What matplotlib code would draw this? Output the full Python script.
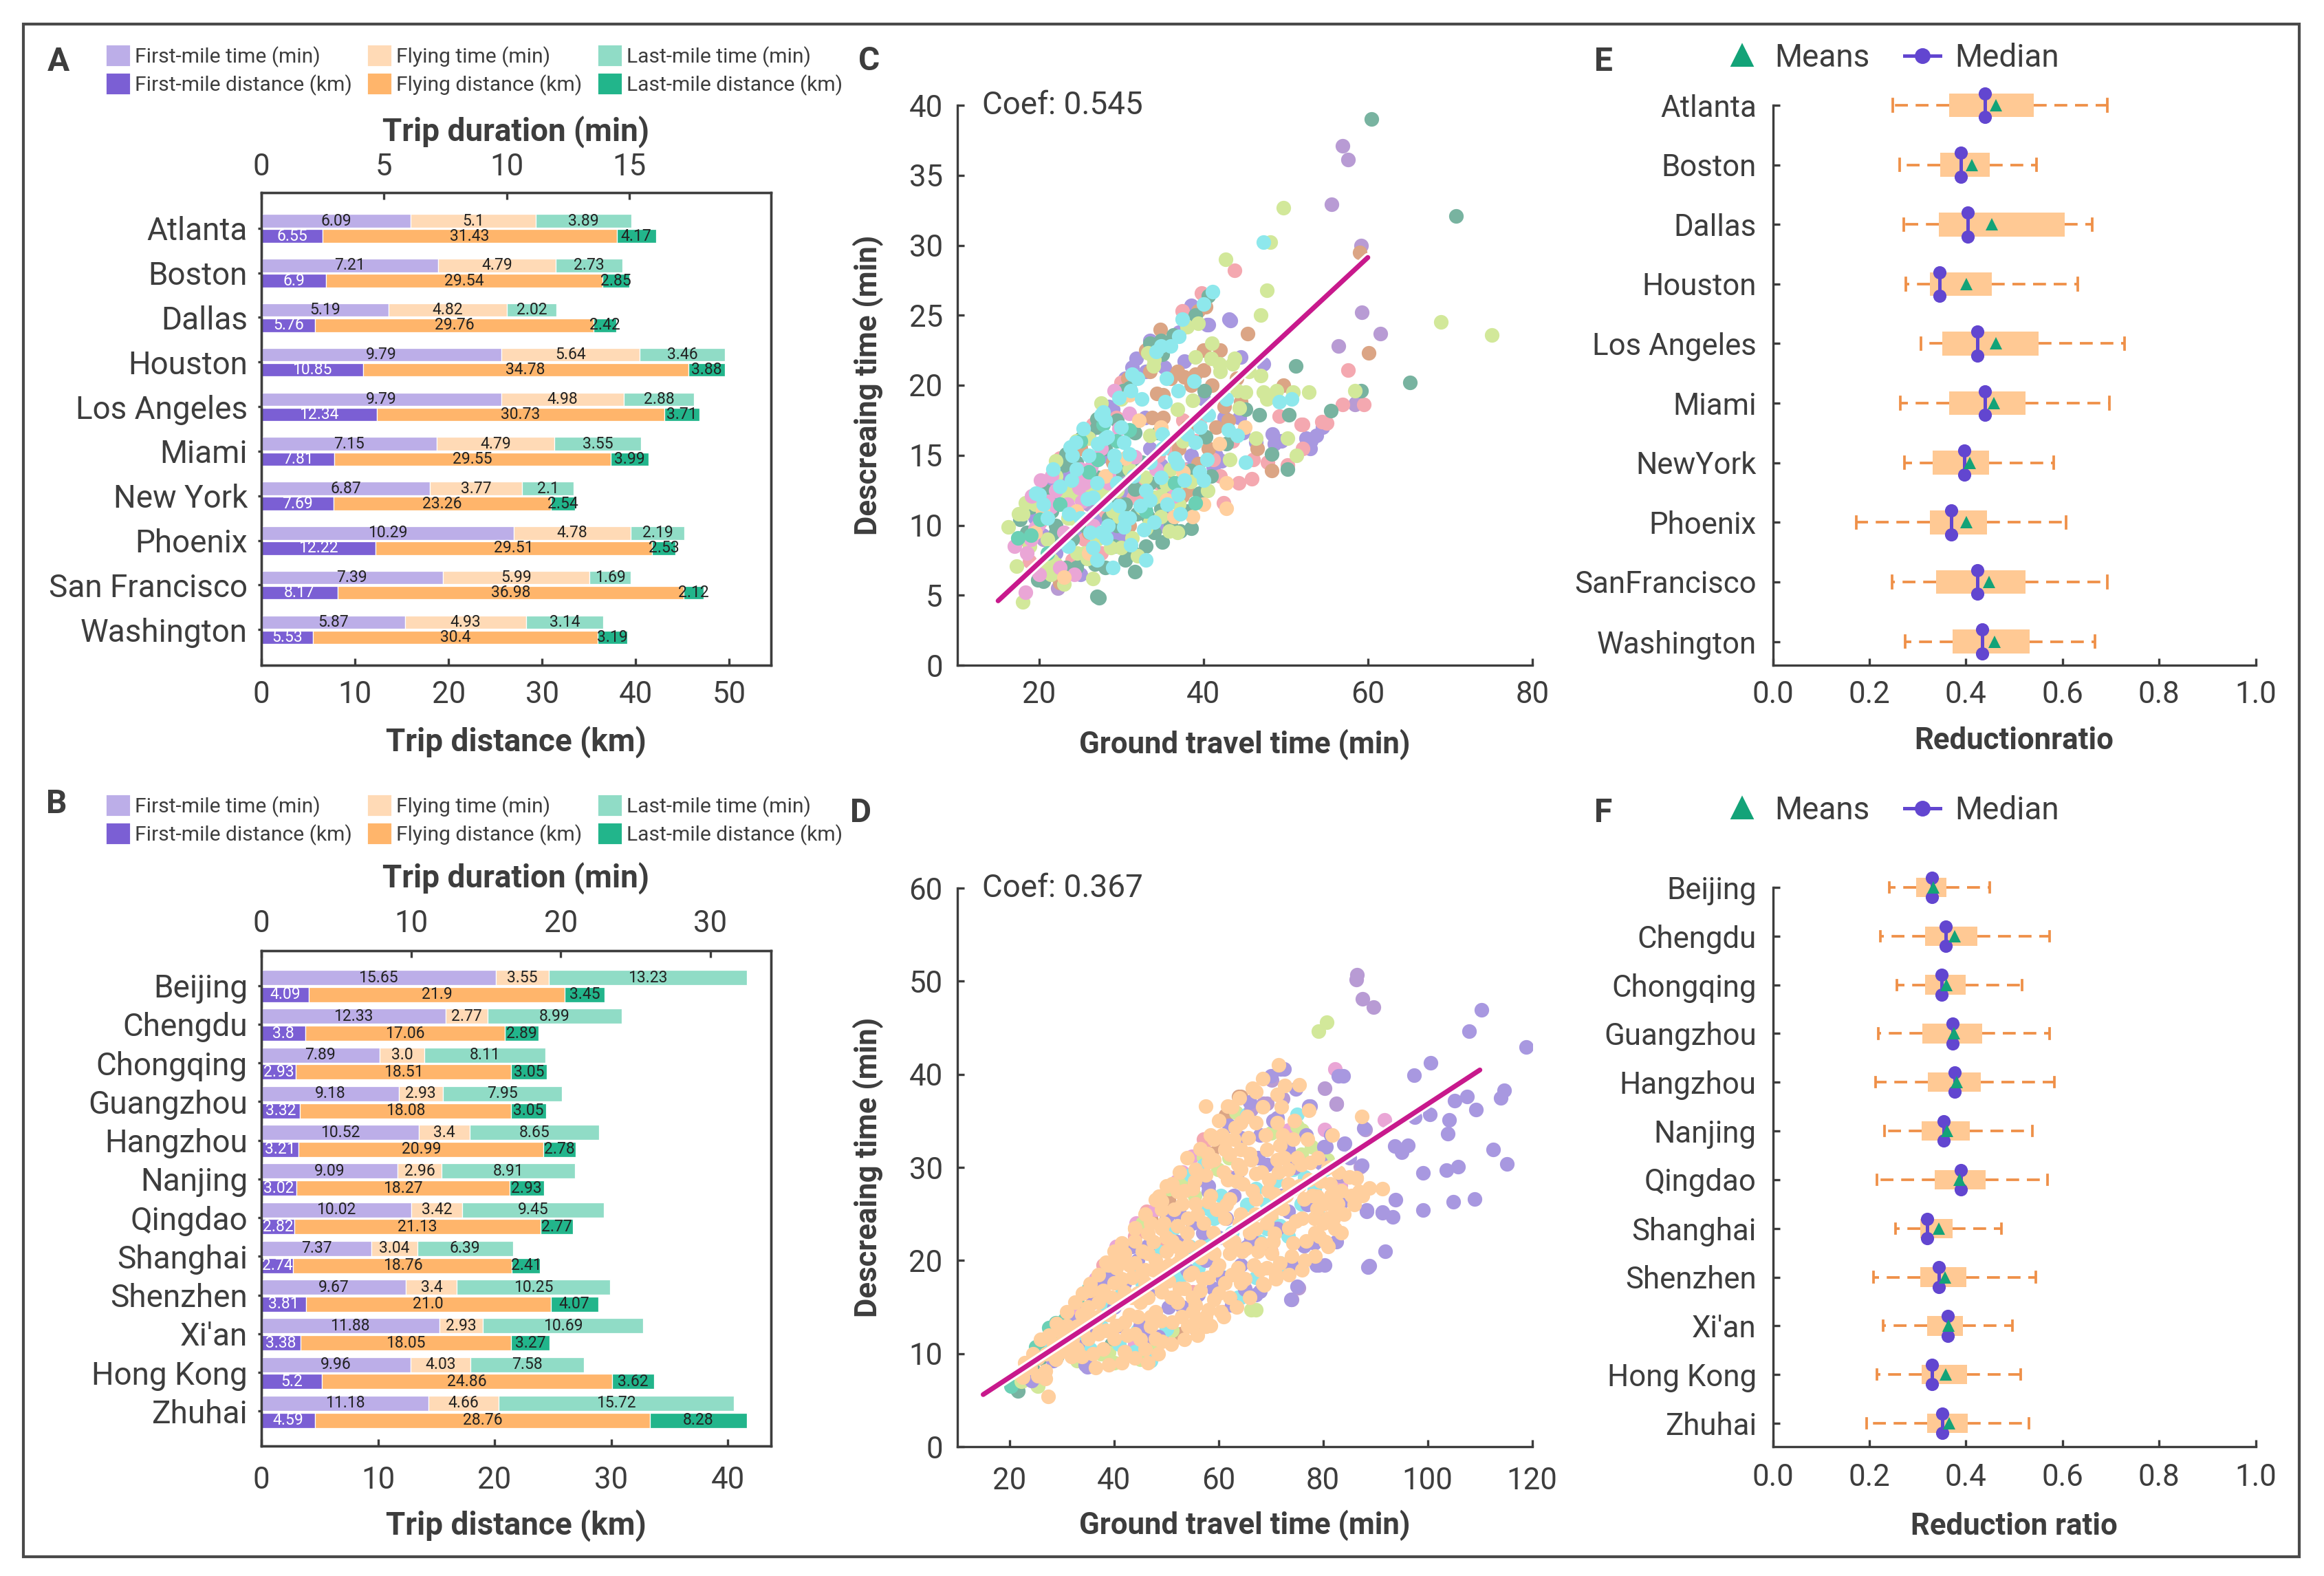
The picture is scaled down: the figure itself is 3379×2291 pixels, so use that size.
import numpy as np
import matplotlib
matplotlib.use("Agg")
import matplotlib.pyplot as plt
import matplotlib.patheffects as pe
from matplotlib.patches import Patch, Rectangle
from matplotlib.lines import Line2D

plt.rcParams["font.family"] = ["Roboto", "DejaVu Sans"]
TXT = "#3d3d3d"
plt.rcParams["text.color"] = TXT
plt.rcParams["axes.labelcolor"] = TXT
plt.rcParams["xtick.color"] = TXT
plt.rcParams["ytick.color"] = TXT
plt.rcParams["axes.edgecolor"] = TXT
plt.rcParams["axes.linewidth"] = 0.8

# ---------------- data: panel A (US) ----------------
us_cities = ["Atlanta", "Boston", "Dallas", "Houston", "Los Angeles", "Miami",
             "New York", "Phoenix", "San Francisco", "Washington"]
us_fm_time = [6.09, 7.21, 5.19, 9.79, 9.79, 7.15, 6.87, 10.29, 7.39, 5.87]
us_fly_time = [5.1, 4.79, 4.82, 5.64, 4.98, 4.79, 3.77, 4.78, 5.99, 4.93]
us_lm_time = [3.89, 2.73, 2.02, 3.46, 2.88, 3.55, 2.1, 2.19, 1.69, 3.14]
us_fm_dist = [6.55, 6.9, 5.76, 10.85, 12.34, 7.81, 7.69, 12.22, 8.17, 5.53]
us_fly_dist = [31.43, 29.54, 29.76, 34.78, 30.73, 29.55, 23.26, 29.51, 36.98, 30.4]
us_lm_dist = [4.17, 2.85, 2.42, 3.88, 3.71, 3.99, 2.54, 2.53, 2.12, 3.19]

# ---------------- data: panel B (China) ----------------
cn_cities = ["Beijing", "Chengdu", "Chongqing", "Guangzhou", "Hangzhou", "Nanjing",
             "Qingdao", "Shanghai", "Shenzhen", "Xi'an", "Hong Kong", "Zhuhai"]
cn_fm_time = [15.65, 12.33, 7.89, 9.18, 10.52, 9.09, 10.02, 7.37, 9.67, 11.88, 9.96, 11.18]
cn_fly_time = [3.55, 2.77, 3.0, 2.93, 3.4, 2.96, 3.42, 3.04, 3.4, 2.93, 4.03, 4.66]
cn_lm_time = [13.23, 8.99, 8.11, 7.95, 8.65, 8.91, 9.45, 6.39, 10.25, 10.69, 7.58, 15.72]
cn_fm_dist = [4.09, 3.8, 2.93, 3.32, 3.21, 3.02, 2.82, 2.74, 3.81, 3.38, 5.2, 4.59]
cn_fly_dist = [21.9, 17.06, 18.51, 18.08, 20.99, 18.27, 21.13, 18.76, 21.0, 18.05, 24.86, 28.76]
cn_lm_dist = [3.45, 2.89, 3.05, 3.05, 2.78, 2.93, 2.77, 2.41, 4.07, 3.27, 3.62, 8.28]

# ---------------- data: panel C scatter (US), (ground time, decreasing time) ----------------
c_purple = [(38.5, 25.7), (40.6, 24.3), (43.3, 24.6), (37.7, 21.7), (35.2, 21.3), (31.8, 21.9), (31.3, 21.3),
            (33.5, 23.2), (47.3, 21.5), (42.5, 17.7), (44.8, 16.6), (48.4, 16.5), (48.6, 15.8), (52.5, 16.2),
            (53.1, 16.0), (53.7, 16.4), (58.5, 18.7), (44.4, 17.7), (32.9, 17.7), (27.5, 14.9), (34.8, 10.0),
            (35.4, 10.3), (42.2, 14.6), (41.2, 14.2), (34.8, 14.3), (24.6, 9.5), (20.4, 9.3), (46.4, 15.9),
            (40.4, 24.3), (43.1, 24.7), (30.5, 20.5), (29.8, 19.2), (24.0, 15.5), (22.5, 13.5), (36.0, 12.0),
            (38.0, 13.0), (40.0, 19.0), (54.5, 17.0), (53.0, 15.5), (49.5, 16.0), (19.5, 10.5), (21.0, 12.0),
            (23.5, 14.0), (26.0, 16.5), (28.5, 18.5), (30.0, 12.0), (32.0, 13.5), (27.0, 10.5), (29.0, 9.5),
            (33.5, 15.5), (36.5, 16.0), (38.5, 15.0), (22.0, 8.0), (25.0, 6.5), (44.5, 22.0), (21.0, 13.0),
            (25.0, 15.8), (29.0, 18.3), (33.0, 21.0), (37.0, 23.8), (22.5, 6.5), (30.0, 9.0), (35.5, 10.8),
            (38.0, 14.0), (41.5, 15.0), (31.0, 12.5), (22.5, 11.8)]
c_lavender = [(56.9, 37.1), (57.6, 36.1), (55.6, 32.9), (59.2, 30.0), (59.3, 25.2), (61.5, 23.7), (56.4, 22.8),
              (22.3, 5.5), (58.4, 18.6), (23.0, 12.8), (26.0, 11.5), (30.5, 13.0), (20.5, 9.0)]
c_pink = [(39.8, 26.6), (37.4, 25.3), (43.8, 28.2), (57.6, 21.1), (56.9, 18.6), (59.5, 18.6), (54.4, 17.4),
          (55.0, 17.3), (52.1, 17.2), (52.1, 15.5), (49.2, 17.8), (47.8, 14.5), (46.0, 14.7), (45.9, 13.3),
          (44.3, 13.0), (42.4, 11.6), (41.2, 14.7), (50.2, 14.3), (18.8, 7.4), (20.1, 10.2), (29.4, 17.7),
          (30.0, 20.2), (51.9, 17.2), (33.0, 13.0), (36.0, 15.5), (25.5, 9.0), (17.5, 9.0), (19.0, 11.5),
          (22.5, 14.8), (26.5, 17.2), (28.0, 11.0), (31.5, 12.0), (34.5, 15.0), (37.5, 14.0), (24.0, 7.5),
          (27.5, 8.0), (39.5, 17.5), (43.5, 16.0), (32.0, 12.0), (34.5, 13.0), (39.0, 16.0), (42.0, 13.5),
          (26.5, 14.5), (37.5, 17.5)]
c_brown = [(34.7, 24.0), (39.3, 25.3), (40.3, 25.6), (45.4, 23.7), (60.1, 22.3), (59.0, 29.5), (36.8, 21.0),
           (37.7, 20.6), (39.0, 20.8), (40.0, 21.1), (42.0, 22.5), (49.7, 20.0), (34.3, 19.4), (35.1, 19.3),
           (33.7, 17.7), (35.1, 17.7), (39.3, 14.4), (40.6, 15.5), (46.5, 15.5), (48.3, 13.9), (22.5, 5.9),
           (31.0, 10.0), (32.9, 11.4), (37.4, 12.1), (38.0, 12.5), (38.5, 20.0), (36.0, 20.5), (41.0, 20.0),
           (29.0, 14.5), (23.5, 14.5), (38.0, 17.0), (25.0, 15.5), (27.5, 17.8), (30.8, 20.5), (33.0, 22.5),
           (26.0, 9.5), (30.0, 11.5), (35.5, 13.5), (37.0, 15.5), (42.5, 18.5), (44.0, 20.5), (41.5, 17.0),
           (33.5, 21.0), (43.0, 17.5), (40.0, 22.5), (44.5, 18.8)]
c_teal = [(36.3, 23.6), (40.6, 26.4), (34.8, 23.2), (33.5, 23.0), (30.2, 19.6), (27.0, 17.6), (25.1, 16.2),
          (23.3, 15.1), (22.0, 13.8), (20.7, 12.5), (17.7, 10.4), (22.0, 10.0), (27.1, 13.4), (27.8, 13.2),
          (29.4, 13.1), (30.0, 14.0), (31.6, 16.6), (34.5, 16.6), (33.5, 13.0), (31.6, 12.6), (31.9, 10.8),
          (33.2, 10.6), (34.8, 11.2), (36.8, 11.7), (37.2, 9.6), (38.4, 13.9), (39.5, 12.3), (40.9, 13.5),
          (40.3, 16.3), (42.8, 15.8), (45.1, 18.3), (46.8, 17.9), (48.3, 15.1), (50.4, 17.9), (50.2, 14.0),
          (51.2, 21.4), (55.5, 18.2), (59.2, 19.6), (31.6, 6.7), (27.3, 4.8), (27.0, 4.9), (23.3, 7.0),
          (25.2, 7.6), (20.7, 6.7), (19.8, 6.1), (26.8, 7.2), (29.1, 8.5), (40.1, 19.6), (60.4, 39.0),
          (70.7, 32.1), (65.1, 20.2), (28.5, 10.5), (30.5, 11.5), (25.5, 10.0), (18.5, 9.5), (21.5, 11.0),
          (24.0, 9.0), (26.0, 12.5), (28.0, 15.5), (29.5, 10.0), (32.5, 14.5), (35.0, 13.0), (36.0, 10.0),
          (38.0, 11.0), (30.5, 7.5), (33.0, 8.5), (24.5, 14.5), (22.5, 9.0), (28.5, 12.0), (34.0, 9.5),
          (19.0, 11.3), (23.0, 14.3), (27.0, 17.0), (31.0, 19.8), (35.0, 22.2), (39.0, 25.0), (20.5, 6.0),
          (24.5, 7.0), (28.0, 7.0), (31.5, 8.0), (35.0, 8.8), (38.5, 9.8), (22.0, 9.5), (29.5, 17.5)]
c_lgreen = [(16.2, 9.9), (17.2, 7.1), (18.0, 4.5), (17.5, 10.8), (18.3, 11.6), (18.8, 8.5), (22.0, 14.6),
            (22.0, 7.2), (21.4, 6.5), (23.0, 12.5), (24.6, 8.0), (25.9, 7.6), (26.2, 12.7), (27.5, 18.7),
            (27.8, 12.3), (28.7, 8.4), (30.0, 8.4), (31.3, 9.1), (32.9, 13.4), (33.5, 16.4), (33.2, 22.3),
            (33.9, 21.4), (34.8, 12.1), (35.5, 12.9), (35.8, 9.6), (36.8, 9.5), (36.8, 18.3), (37.1, 13.1),
            (38.4, 13.1), (38.7, 18.9), (39.3, 24.4), (40.9, 21.9), (41.9, 21.5), (42.0, 21.0), (43.8, 21.9),
            (43.5, 21.5), (44.1, 19.6), (44.4, 18.4), (45.1, 19.5), (43.2, 14.7), (46.4, 16.2), (47.0, 20.7),
            (47.3, 19.5), (47.7, 19.0), (48.9, 19.6), (50.2, 16.2), (50.9, 19.5), (51.3, 15.0), (52.8, 19.5),
            (47.0, 25.0), (47.7, 26.8), (42.7, 29.0), (48.1, 30.2), (49.7, 32.7), (58.4, 19.6), (32.6, 11.2),
            (34.8, 10.6), (29.7, 10.6), (33.5, 10.2), (68.9, 24.5), (75.1, 23.6), (19.5, 11.5), (21.0, 9.0),
            (23.5, 10.5), (25.0, 13.0), (27.0, 9.0), (29.5, 12.5), (31.0, 14.0), (32.0, 7.8), (34.0, 12.0),
            (36.0, 14.0), (37.5, 16.0), (39.0, 22.0), (41.0, 23.0), (45.5, 21.0), (24.5, 16.0), (20.5, 7.0),
            (23.0, 5.8), (26.5, 6.2), (18.0, 10.8), (22.0, 13.5), (26.0, 16.2), (30.0, 19.0), (34.0, 21.8),
            (38.0, 24.2), (21.5, 7.5), (25.5, 8.0), (29.0, 11.0), (33.0, 9.8), (37.0, 11.5), (40.5, 12.5),
            (24.0, 10.5), (24.0, 12.2)]
c_magenta = [(29.7, 16.9), (29.1, 19.6), (26.3, 14.1), (24.6, 13.8), (20.2, 13.2), (21.1, 11.7), (22.0, 12.5),
             (23.4, 11.5), (24.9, 12.7), (21.4, 11.3), (19.8, 10.0), (18.5, 8.0), (18.3, 5.2), (24.3, 6.5),
             (25.2, 11.7), (31.6, 14.9), (34.2, 14.0), (36.4, 12.1), (19.1, 12.1), (20.7, 10.6), (17.0, 8.5),
             (19.0, 9.0), (21.5, 13.5), (23.0, 9.5), (25.5, 13.0), (27.5, 15.5), (22.5, 7.0), (20.0, 6.5),
             (26.5, 10.0), (28.5, 13.5), (19.5, 9.8), (28.5, 13.0), (25.0, 14.0), (31.0, 18.0)]
c_peach = [(32.1, 17.5), (31.0, 19.3), (42.8, 13.0), (42.8, 11.2), (38.7, 10.6), (40.0, 11.5), (23.0, 6.3),
           (20.4, 11.0), (34.8, 17.0), (41.9, 15.8), (36.4, 10.6), (19.5, 9.5), (26.0, 8.0), (24.5, 11.0),
           (28.0, 13.5), (30.5, 14.8), (35.5, 11.8), (37.5, 13.8), (45.0, 17.0)]
c_mint = [(17.4, 9.1), (19.0, 9.3), (27.1, 14.7), (27.8, 17.2), (39.0, 11.6), (20.1, 10.4), (25.0, 16.0),
          (29.5, 16.0), (21.0, 8.0), (22.5, 11.5), (26.0, 13.8), (31.0, 16.8), (33.0, 11.0), (36.5, 13.0)]
c_cyan = [(41.1, 26.7), (37.4, 24.7), (34.8, 22.8), (34.2, 22.4), (31.3, 20.8), (31.1, 19.6), (29.7, 19.1),
          (27.8, 18.1), (27.5, 17.9), (25.4, 16.9), (24.4, 15.9), (23.8, 15.6), (21.7, 14.0), (19.6, 12.3),
          (27.1, 15.8), (28.3, 16.3), (29.1, 15.0), (30.3, 15.9), (31.0, 15.1), (29.2, 14.2), (23.9, 13.2),
          (23.6, 10.8), (25.9, 11.9), (26.2, 9.5), (26.5, 8.4), (28.1, 9.1), (28.4, 10.0), (29.7, 11.4),
          (30.3, 9.9), (31.1, 8.6), (32.3, 11.4), (32.7, 9.7), (34.0, 10.2), (34.8, 13.4), (35.6, 11.5),
          (36.9, 12.2), (37.2, 10.8), (37.7, 13.2), (36.8, 14.4), (39.0, 15.9), (39.6, 17.0), (40.0, 13.2),
          (40.4, 14.7), (35.3, 18.8), (36.9, 19.6), (38.8, 20.3), (43.0, 16.8), (44.1, 16.4), (45.1, 14.5),
          (49.2, 18.8), (50.7, 19.0), (47.3, 30.2), (40.6, 17.9), (42.8, 19.0), (20.5, 11.5), (22.5, 12.8),
          (24.5, 14.0), (26.0, 15.0), (27.0, 13.0), (28.0, 11.5), (29.5, 13.0), (31.5, 13.5), (33.0, 12.5),
          (33.5, 14.5), (35.0, 15.5), (38.0, 16.5), (25.0, 10.5), (27.0, 7.5), (29.0, 7.0), (31.0, 10.5),
          (33.0, 7.5), (30.0, 17.0), (32.5, 19.0), (35.5, 20.5), (37.0, 23.5), (20.0, 12.2), (24.0, 15.0),
          (28.0, 17.5), (32.0, 20.5), (36.0, 22.8), (40.0, 25.8), (23.5, 8.5), (27.5, 9.5), (30.5, 10.5),
          (33.5, 11.8), (36.5, 14.8), (39.5, 13.8), (26.5, 12.0), (35.0, 16.5), (21.0, 10.5), (28.0, 16.2)]
c_coef, c_icpt, c_fit_x = 0.545, -3.575, [15, 60]

# ---------------- data: panel D scatter (China) ----------------
d_peach = [(71.5, 41.0), (75.5, 38.9), (71.2, 37.8), (72.7, 38.8), (67.2, 38.1), (61.7, 36.6), (67.2, 34.8),
           (71.2, 34.8), (65.7, 33.2), (63.2, 34.3), (64.2, 34.8), (87.4, 35.5), (81.8, 33.5), (77.3, 36.1),
           (61.2, 33.0), (62.2, 31.4), (64.2, 29.8), (66.2, 30.8), (68.2, 29.5), (69.2, 31.9), (71.7, 32.4),
           (74.3, 33.0), (71.2, 30.8), (73.3, 29.8), (75.8, 30.3), (77.3, 28.7), (86.4, 28.9), (88.9, 27.8),
           (91.4, 27.7), (85.4, 27.0), (82.8, 26.1), (80.3, 26.1), (78.8, 25.6), (80.8, 24.5), (82.3, 23.4),
           (79.3, 22.6), (76.8, 22.1), (74.8, 24.2), (72.3, 25.6), (69.2, 24.0), (67.2, 23.4), (64.2, 25.0),
           (61.2, 24.5), (58.1, 26.3), (55.6, 26.1), (53.1, 26.1), (49.1, 25.5), (48.6, 26.9), (52.1, 27.4),
           (55.1, 27.7), (57.6, 29.2), (59.1, 30.8), (61.7, 28.7), (64.7, 28.2), (67.2, 26.6), (70.7, 27.1),
           (74.3, 27.7), (65.2, 21.3), (68.2, 21.8), (70.2, 20.8), (71.7, 19.7), (69.2, 19.2), (66.7, 19.5),
           (63.7, 19.2), (62.2, 20.8), (59.1, 20.8), (56.6, 20.3), (54.1, 21.6), (51.1, 22.1), (49.1, 23.4),
           (46.5, 22.9), (44.0, 22.1), (42.0, 20.8), (41.0, 20.3), (40.5, 19.2), (44.0, 19.7), (46.5, 20.8),
           (49.1, 19.2), (52.1, 19.7), (55.1, 18.7), (58.1, 18.2), (61.2, 17.6), (64.2, 17.6), (62.2, 16.0),
           (59.1, 15.8), (55.6, 15.2), (52.1, 15.5), (49.1, 16.6), (46.0, 17.6), (43.5, 18.2), (42.0, 16.6),
           (45.0, 15.5), (48.0, 14.5), (51.1, 13.4), (54.1, 12.9), (57.6, 12.9), (58.1, 14.7), (55.1, 14.5),
           (47.0, 12.9), (44.0, 12.1), (42.0, 13.4), (39.0, 14.2), (37.0, 15.5), (35.4, 16.8), (38.0, 16.8),
           (40.0, 17.6), (36.4, 13.4), (40.0, 11.6), (42.0, 10.2), (46.0, 10.5), (48.0, 11.6), (43.0, 14.2),
           (33.9, 14.2), (32.9, 12.9), (35.0, 11.6), (37.0, 12.1), (33.9, 9.7), (31.9, 9.7), (29.9, 10.2),
           (26.9, 8.1), (25.4, 7.6), (26.9, 7.3), (27.4, 5.4), (28.9, 9.4), (35.0, 15.0), (37.5, 16.6),
           (41.5, 21.9), (44.0, 23.4), (47.0, 24.0), (52.1, 23.7), (54.1, 24.5), (57.1, 24.0), (59.6, 25.5),
           (62.2, 26.6), (49.1, 26.4), (51.1, 28.2), (55.6, 29.8), (58.1, 30.6), (61.2, 31.9), (63.7, 30.3),
           (67.2, 29.3), (64.2, 31.9), (60.7, 33.5), (59.1, 33.0), (72.3, 33.5), (69.7, 28.7), (73.3, 28.2),
           (76.3, 26.6), (78.3, 24.5), (74.3, 21.9), (70.7, 22.9), (81.3, 28.2), (78.8, 26.9), (82.3, 25.2),
           (55.6, 13.4), (49.1, 11.3), (57.6, 36.6), (86.9, 27.4), (68.7, 17.4), (86.3, 28.8), (57.6, 12.9),
           (30.5, 12.0), (31.0, 11.0), (39.0, 19.5), (45.5, 18.8), (50.5, 17.8), (53.5, 17.0), (56.5, 16.8),
           (60.0, 19.5), (63.0, 22.0), (66.0, 23.0), (50.0, 21.0), (53.0, 20.5), (47.5, 19.0), (44.5, 16.5),
           (22.5, 7.5), (24.0, 8.5), (25.5, 9.5), (27.0, 10.0), (28.5, 11.0), (29.5, 12.5), (31.0, 13.0),
           (32.0, 11.5), (33.0, 10.5), (34.0, 12.5), (35.5, 13.5), (36.0, 10.0), (37.0, 14.0), (38.5, 12.5),
           (38.0, 10.5), (39.5, 16.0), (40.5, 13.0), (41.0, 15.5), (41.5, 18.0), (42.5, 12.0), (43.0, 19.5),
           (43.5, 16.0), (44.5, 14.0), (45.0, 11.5), (45.5, 21.0), (46.0, 19.0), (46.5, 16.0), (47.0, 14.0),
           (47.5, 22.0), (48.0, 20.0), (48.5, 17.5), (49.0, 13.5), (49.5, 24.0), (50.0, 22.5), (50.5, 19.5),
           (51.0, 16.0), (51.5, 25.5), (52.0, 21.5), (52.5, 17.0), (53.0, 14.0), (53.5, 27.5), (54.0, 23.0),
           (54.5, 18.5), (55.0, 16.0), (55.5, 28.5), (56.0, 25.0), (56.5, 21.5), (57.0, 18.0), (57.5, 14.0),
           (58.0, 31.5), (58.5, 27.0), (59.0, 23.0), (59.5, 19.0), (60.0, 16.5), (60.5, 14.5), (61.0, 29.5),
           (61.5, 26.0), (62.0, 22.0), (62.5, 18.5), (63.0, 33.0), (63.5, 28.5), (64.0, 24.0), (64.5, 21.0),
           (65.0, 18.0), (65.5, 35.5), (66.0, 31.5), (66.5, 27.5), (67.0, 25.0), (67.5, 21.0), (68.0, 19.0),
           (68.5, 36.5), (69.0, 33.5), (69.5, 27.5), (70.0, 25.0), (70.5, 22.0), (71.0, 18.5), (71.5, 29.5),
           (72.0, 36.5), (72.5, 31.0), (73.0, 27.0), (73.5, 23.5), (74.0, 20.5), (74.5, 35.0), (75.0, 31.0),
           (75.5, 28.0), (76.0, 24.5), (76.5, 20.0), (77.0, 33.0), (77.5, 30.5), (78.0, 27.0), (78.5, 23.0),
           (79.0, 31.0), (79.5, 28.5), (80.0, 24.0), (80.5, 22.0), (81.0, 30.0), (81.5, 27.0), (82.0, 24.5),
           (83.0, 29.5), (83.5, 27.5), (84.0, 25.0), (85.0, 29.0), (86.0, 26.0), (87.5, 27.0), (44.0, 23.5),
           (46.0, 25.0), (48.0, 26.5), (50.0, 28.0), (52.5, 29.5), (54.0, 31.0), (56.5, 32.0), (58.5, 33.5),
           (60.0, 35.0), (62.5, 36.5), (64.0, 37.5), (66.5, 38.5), (68.5, 39.5), (40.0, 21.0), (38.5, 19.8),
           (37.0, 18.5), (35.5, 17.5), (34.0, 16.5), (32.5, 15.5), (31.0, 14.5), (29.0, 13.2), (27.5, 12.0),
           (26.0, 11.5), (24.5, 10.0), (23.0, 9.0), (36.5, 8.5), (39.0, 8.8), (41.5, 9.0), (44.0, 9.5),
           (46.5, 9.0), (48.5, 10.0), (51.0, 11.0), (53.5, 11.5), (56.0, 12.0), (58.5, 13.0), (61.0, 14.0),
           (63.5, 15.0), (66.0, 16.0), (68.5, 17.5), (71.0, 18.0), (73.5, 18.5), (76.0, 19.0), (78.5, 20.5),
           (81.0, 21.5), (83.5, 23.0)]
d_purple = [(97.4, 39.9), (100.6, 41.2), (110.3, 46.9), (108.0, 44.6), (118.8, 42.9), (114.0, 37.5),
            (114.6, 38.3), (105.2, 37.2), (107.5, 37.6), (109.3, 36.2), (100.4, 35.7), (97.5, 35.4),
            (104.1, 35.1), (103.8, 33.6), (93.7, 32.3), (96.2, 32.4), (95.1, 31.6), (99.1, 29.4), (103.6, 29.7),
            (105.8, 30.1), (112.6, 31.9), (115.2, 30.4), (93.9, 26.5), (99.1, 25.4), (104.9, 26.3), (109.0, 26.6),
            (91.3, 25.1), (93.4, 24.7), (88.4, 25.4), (91.9, 21.0), (88.6, 19.3), (78.7, 19.5), (80.3, 19.5),
            (87.8, 34.2), (84.0, 32.5), (83.0, 39.8), (80.2, 32.2), (75.0, 17.2), (73.9, 15.8), (62.5, 15.2),
            (65.0, 16.9), (71.9, 40.6), (70.1, 39.8), (77.3, 36.6), (34.5, 8.8), (72.5, 40.6), (74.8, 38.4),
            (77.5, 36.6), (83.8, 39.8), (68.0, 33.5), (64.2, 33.2), (71.2, 35.3), (73.3, 31.9), (80.6, 32.2),
            (84.1, 32.6), (87.4, 30.2), (88.4, 25.3), (91.4, 25.2), (88.9, 19.4), (79.1, 19.5), (74.0, 19.5),
            (68.0, 16.7), (62.7, 15.2), (58.1, 27.4), (58.1, 28.0), (56.1, 28.7), (50.1, 24.5), (46.5, 21.6),
            (42.0, 17.6), (37.5, 17.6), (35.9, 12.9), (34.9, 8.6), (32.9, 10.8), (28.4, 9.2), (25.9, 7.6),
            (24.3, 7.1), (46.0, 11.6), (48.5, 11.8), (53.1, 15.0), (56.1, 16.3), (60.7, 18.2), (64.2, 19.5),
            (66.2, 22.4), (71.2, 23.4), (76.3, 21.6), (78.3, 21.9), (73.3, 25.3), (83.3, 26.1), (67.2, 16.3),
            (69.2, 30.3), (76.8, 33.5), (52.0, 22.0), (54.0, 19.0), (44.5, 20.0), (40.0, 15.0), (60.0, 22.5),
            (63.0, 27.0), (57.0, 23.0), (30.0, 11.0), (33.0, 13.5), (36.0, 15.5), (39.0, 18.0), (41.0, 13.0),
            (43.5, 21.5), (45.0, 13.0), (47.5, 17.0), (50.5, 15.0), (52.5, 25.0), (55.0, 24.0), (57.5, 20.0),
            (59.0, 17.0), (61.5, 24.5), (63.5, 29.0), (65.5, 21.5), (67.5, 31.0), (70.5, 35.0), (72.0, 27.0),
            (74.5, 30.0), (77.0, 26.0), (79.5, 30.5), (81.5, 33.5), (85.0, 31.0), (82.5, 22.0), (66.0, 37.0),
            (62.0, 34.5)]
d_lavender = [(86.5, 50.7), (86.3, 50.2), (87.5, 48.1), (89.6, 47.2), (82.6, 36.9), (87.2, 30.1), (68.6, 36.9),
              (70.2, 39.4), (72.3, 37.4), (66.2, 36.2), (69.2, 36.9), (80.3, 38.5), (82.6, 36.8), (74.0, 15.8),
              (75.3, 17.1), (88.1, 34.1), (83.3, 29.1)]
d_cyan = [(75.0, 35.7), (65.4, 35.7), (57.1, 30.2), (54.6, 29.2), (58.1, 25.6), (59.1, 24.5), (67.2, 27.7),
          (69.2, 26.1), (71.7, 23.7), (73.3, 22.6), (75.8, 26.1), (72.3, 19.5), (64.2, 16.0), (67.2, 18.2),
          (63.7, 16.0), (56.1, 19.2), (52.6, 18.2), (50.1, 12.6), (48.0, 14.2), (44.0, 10.2), (47.0, 9.2),
          (42.0, 10.2), (35.4, 10.5), (33.9, 11.3), (37.5, 12.9), (44.0, 19.2), (61.2, 18.2), (69.2, 23.4),
          (78.3, 27.7), (80.3, 29.8), (74.3, 29.8), (63.6, 15.9), (71.8, 19.7), (28.0, 10.5), (31.5, 12.5),
          (34.5, 14.0), (38.5, 15.0), (41.5, 16.5), (45.5, 17.5), (48.5, 21.0), (51.5, 23.5), (54.5, 21.5),
          (57.5, 22.0), (60.5, 27.0), (62.5, 23.0), (65.5, 26.0), (68.0, 22.0), (71.0, 28.5), (73.0, 33.0),
          (76.5, 29.0), (79.0, 25.0), (44.5, 12.5), (41.0, 11.0)]
d_lgreen = [(80.7, 45.6), (79.1, 44.6), (63.4, 35.9), (75.0, 34.4), (70.0, 33.7), (60.9, 33.3), (57.1, 31.1),
            (53.1, 28.6), (50.6, 27.7), (59.9, 29.8), (77.8, 32.2), (75.8, 31.4), (80.8, 30.8), (66.2, 14.7),
            (67.2, 14.7), (55.6, 13.3), (51.1, 12.5), (37.5, 10.0), (39.0, 10.1), (45.0, 9.4), (25.4, 6.5),
            (22.6, 7.1), (32.9, 9.2), (70.2, 27.4), (22.3, 7.0), (25.3, 6.6), (30.0, 11.5), (38.0, 18.5),
            (45.5, 24.0), (55.5, 27.0), (62.0, 31.0), (70.0, 24.5), (76.0, 34.0), (40.0, 9.0), (48.0, 10.5),
            (34.0, 10.0)]
d_pink = [(57.6, 32.9), (42.0, 21.6), (46.3, 25.3), (60.7, 14.5), (55.1, 16.6), (44.0, 22.6), (41.0, 21.3),
          (57.2, 33.0), (38.0, 19.5), (49.5, 21.5), (62.0, 29.0), (70.0, 21.0), (65.0, 17.0)]
d_brown = [(64.2, 37.6), (61.4, 35.6), (58.6, 31.5), (47.0, 24.5), (46.0, 23.8), (52.8, 12.1), (39.5, 19.2),
           (28.9, 11.8), (63.9, 37.6), (36.0, 17.5), (44.5, 23.5), (50.5, 26.5), (60.0, 32.5), (55.5, 12.8)]
d_magenta = [(82.3, 40.6), (80.3, 34.1), (91.7, 35.1), (83.4, 28.1), (54.9, 31.2), (53.1, 29.5), (44.3, 24.0),
             (32.4, 14.7), (47.5, 10.2), (73.3, 34.0), (36.5, 18.0), (40.5, 21.5), (48.0, 25.5), (52.0, 28.5),
             (58.0, 31.0), (64.5, 33.0), (44.0, 11.0), (50.0, 12.5)]
d_teal = [(21.4, 6.2), (23.0, 7.5), (29.0, 9.6), (36.4, 17.0), (38.2, 10.1), (24.5, 8.3), (21.6, 6.0),
          (26.0, 9.5), (31.5, 11.5), (39.5, 11.0), (44.0, 10.5)]
d_mint = [(25.1, 10.7), (28.9, 13.3), (30.6, 13.7), (35.2, 17.0), (25.4, 10.8), (30.9, 13.8), (35.9, 17.1),
          (20.3, 6.5), (23.5, 9.0), (26.5, 11.5), (27.5, 12.8), (33.0, 15.5), (37.5, 18.0)]
d_coef, d_icpt, d_fit_x = 0.367, 0.095, [15, 110]

# ---------------- data: panel E / F box stats ----------------
e_cities = ["Atlanta", "Boston", "Dallas", "Houston", "Los Angeles", "Miami", "NewYork", "Phoenix",
            "SanFrancisco", "Washington"]
e_lo = [0.248, 0.263, 0.271, 0.275, 0.307, 0.264, 0.272, 0.173, 0.247, 0.274]
e_q1 = [0.366, 0.347, 0.344, 0.325, 0.351, 0.366, 0.331, 0.325, 0.338, 0.372]
e_med = [0.440, 0.389, 0.404, 0.345, 0.423, 0.439, 0.396, 0.369, 0.423, 0.433]
e_mean = [0.462, 0.413, 0.453, 0.401, 0.462, 0.458, 0.408, 0.401, 0.448, 0.459]
e_q3 = [0.541, 0.449, 0.604, 0.453, 0.551, 0.524, 0.448, 0.443, 0.523, 0.532]
e_hi = [0.693, 0.546, 0.662, 0.632, 0.729, 0.697, 0.582, 0.607, 0.693, 0.668]

f_cities = cn_cities
f_lo = [0.242, 0.223, 0.257, 0.219, 0.213, 0.231, 0.216, 0.254, 0.209, 0.229, 0.216, 0.195]
f_q1 = [0.297, 0.316, 0.316, 0.310, 0.321, 0.309, 0.335, 0.306, 0.306, 0.320, 0.308, 0.319]
f_med = [0.330, 0.358, 0.350, 0.372, 0.377, 0.354, 0.390, 0.319, 0.344, 0.363, 0.330, 0.351]
f_mean = [0.332, 0.376, 0.360, 0.375, 0.381, 0.361, 0.387, 0.344, 0.357, 0.364, 0.358, 0.365]
f_q3 = [0.359, 0.424, 0.400, 0.433, 0.431, 0.408, 0.441, 0.372, 0.401, 0.394, 0.402, 0.404]
f_hi = [0.450, 0.574, 0.516, 0.573, 0.583, 0.537, 0.569, 0.473, 0.545, 0.497, 0.513, 0.531]

# colours
COL_FM_T, COL_FM_D = "#bcaee8", "#7b5fd4"
COL_FL_T, COL_FL_D = "#ffdab6", "#ffb56b"
COL_LM_T, COL_LM_D = "#90dcc6", "#22b58b"
SC = {"purple": "#a898e0", "lavender": "#b89bd4", "pink": "#f4a8b0", "brown": "#dba585",
      "teal": "#78b3a0", "lgreen": "#d2e89a", "magenta": "#eaa6d6", "peach": "#ffcf9e",
      "mint": "#6bd0b5", "cyan": "#8ee8ec"}

W, H = 3379, 2291
fig = plt.figure(figsize=(W / 300, H / 300), dpi=300)


def px_axes(x0, y0, x1, y1):
    return fig.add_axes([x0 / W, 1 - y1 / H, (x1 - x0) / W, (y1 - y0) / H])


def bars_panel(ax, cities, t_parts, d_parts, kmax, tmax, tticks, dticks, ylim, bh, off_t, off_d, tpads, dpads):
    ax2 = ax.twiny()
    y = np.arange(len(cities))
    left = np.zeros(len(cities))
    for vals, col in zip(d_parts, [COL_FM_D, COL_FL_D, COL_LM_D]):
        ax.barh(y + off_d, vals, left=left, height=bh, color=col, edgecolor="white", linewidth=0.3)
        for yi, l, v in zip(y, left, vals):
            ax.text(l + v / 2, yi + off_d, str(v), ha="center", va="center", fontsize=5.5,
                    color="white" if col == COL_FM_D else "#222222")
        left = left + np.array(vals)
    left = np.zeros(len(cities))
    for vals, col in zip(t_parts, [COL_FM_T, COL_FL_T, COL_LM_T]):
        ax2.barh(y + off_t, vals, left=left, height=bh, color=col, edgecolor="white", linewidth=0.3)
        for yi, l, v in zip(y, left, vals):
            ax2.text(l + v / 2, yi + off_t, str(v), ha="center", va="center", fontsize=5.5, color="#222222")
        left = left + np.array(vals)
    ax.set_xlim(0, kmax)
    ax2.set_xlim(0, tmax)
    ax.set_ylim(*ylim)
    ax.set_yticks(y, cities, fontsize=11)
    ax.set_xticks(dticks)
    ax2.set_xticks(tticks)
    ax.tick_params(axis="x", direction="in", length=2.3, labelsize=10.5, pad=dpads[0], width=0.8)
    ax2.tick_params(axis="x", direction="in", length=2.3, labelsize=10.5, pad=tpads[0], width=0.8)
    ax.tick_params(axis="y", direction="out", length=1.3, pad=3.5, width=0.8)
    ax.set_xlabel("Trip distance (km)", fontsize=11, fontweight="bold", labelpad=dpads[1])
    ax2.set_xlabel("Trip duration (min)", fontsize=11, fontweight="bold", labelpad=tpads[1])


def scatter_panel(ax, groups, coef, icpt, fit_x, xlim, ylim, xticks, yticks):
    for col, pts in groups:
        arr = np.array(pts)
        ax.scatter(arr[:, 0], arr[:, 1], s=26, color=SC[col], linewidths=0, zorder=2)
    fx = np.array(fit_x, dtype=float)
    ax.plot(fx, coef * fx + icpt, color="#c8198c", lw=1.7, solid_capstyle="round", zorder=3,
            path_effects=[pe.Stroke(linewidth=3.2, foreground="white"), pe.Normal()])
    ax.set_xlim(*xlim)
    ax.set_ylim(*ylim)
    ax.set_xticks(xticks)
    ax.set_yticks(yticks)
    ax.spines[["top", "right"]].set_visible(False)
    ax.tick_params(direction="in", length=2.5, labelsize=10.5, width=0.8)
    ax.tick_params(axis="y", pad=5)
    ax.text(0.044, 1.0, f"Coef: {coef}", transform=ax.transAxes, fontsize=11, ha="left", va="center")
    ax.set_ylabel("Descreaing time (min)", fontsize=10.5, fontweight="bold")
    ax.yaxis.set_label_coords(-0.127, 0.5)


def box_panel(ax, cities, lo, q1, med, mean, q3, hi, bottom_pad, xlabel, xpads):
    stats = [dict(label=c, whislo=a, q1=b, med=m, mean=mu, q3=d, whishi=e)
             for c, a, b, m, mu, d, e in zip(cities, lo, q1, med, mean, q3, hi)]
    arts = ax.bxp(stats, positions=range(len(cities)), widths=0.4, orientation="horizontal",
                  patch_artist=True, showmeans=True, showfliers=False, manage_ticks=False,
                  boxprops=dict(facecolor="#ffc994", edgecolor="none"),
                  whiskerprops=dict(color="#ef9048", linewidth=0.9, linestyle=(0, (5.0, 3.0))),
                  capprops=dict(color="#ef9048", linewidth=0.9),
                  medianprops=dict(color="#6246d0", linewidth=1.2, marker="o", markersize=3.6),
                  meanprops=dict(marker="^", markerfacecolor="#13a378", markeredgecolor="none", markersize=4.3))
    for group in arts.values():
        for a in group:
            a.set_clip_on(False)
    ax.set_ylim(len(cities) - 1 + bottom_pad, 0)
    ax.set_yticks(range(len(cities)), cities, fontsize=11)
    ax.set_xlim(0, 1.0)
    ax.set_xticks(np.arange(0, 1.01, 0.2))
    ax.set_xticklabels([f"{v:.1f}" for v in np.arange(0, 1.01, 0.2)])
    ax.spines[["top", "right"]].set_visible(False)
    ax.tick_params(direction="in", length=2.5, labelsize=10.5, width=0.8)
    ax.tick_params(axis="y", pad=5.7)
    ax.tick_params(axis="x", pad=xpads[0])
    ax.set_xlabel(xlabel, fontsize=10.5, fontweight="bold", labelpad=xpads[1])


# ---- A
axA = px_axes(380, 280, 1121, 967)
bars_panel(axA, us_cities, [us_fm_time, us_fly_time, us_lm_time], [us_fm_dist, us_fly_dist, us_lm_dist],
           54.46, 20.78, [0, 5, 10, 15], [0, 10, 20, 30, 40, 50], (9.8, -0.8), 0.3, -0.165, 0.175,
           (3.8, 4.0), (5.3, 6.0))
# ---- B
axB = px_axes(380, 1382, 1121, 2102)
bars_panel(axB, cn_cities, [cn_fm_time, cn_fly_time, cn_lm_time], [cn_fm_dist, cn_fly_dist, cn_lm_dist],
           43.71, 34.05, [0, 10, 20, 30], [0, 10, 20, 30, 40], (11.9, -0.9), 0.39, -0.205, 0.235,
           (4.3, 7.5), (7.0, 5.3))

# ---- C
axC = px_axes(1391.5, 153, 2227.7, 967)
scatter_panel(axC, [("purple", c_purple), ("lavender", c_lavender), ("pink", c_pink), ("brown", c_brown),
                    ("teal", c_teal), ("lgreen", c_lgreen), ("magenta", c_magenta), ("peach", c_peach),
                    ("mint", c_mint), ("cyan", c_cyan)],
              c_coef, c_icpt, c_fit_x, (10, 80), (0, 40), [20, 40, 60, 80], range(0, 41, 5))
axC.tick_params(axis="x", pad=5.3)
axC.set_xlabel("Ground travel time (min)", fontsize=10.5, fontweight="bold", labelpad=7)

# ---- D
axD = px_axes(1391.5, 1291, 2227.7, 2103)
scatter_panel(axD, [("teal", d_teal), ("mint", d_mint), ("brown", d_brown), ("pink", d_pink),
                    ("magenta", d_magenta), ("lgreen", d_lgreen), ("cyan", d_cyan), ("lavender", d_lavender),
                    ("purple", d_purple), ("peach", d_peach)],
              d_coef, d_icpt, d_fit_x, (10, 120), (0, 60), [20, 40, 60, 80, 100, 120], range(0, 61, 10))
axD.tick_params(axis="x", pad=7)
axD.set_xlabel("Ground travel time (min)", fontsize=10.5, fontweight="bold", labelpad=5)

# ---- E / F
axE = px_axes(2577.6, 153, 3279.5, 967)
box_panel(axE, e_cities, e_lo, e_q1, e_med, e_mean, e_q3, e_hi, 0.397, "Reductionratio", (5.3, 6))
axF = px_axes(2577.6, 1290, 3279.5, 2103)
box_panel(axF, f_cities, f_lo, f_q1, f_med, f_mean, f_q3, f_hi, 0.48, "Reduction ratio", (5.8, 7))

# legends
bar_handles = [Patch(color=COL_FM_T), Patch(color=COL_FM_D), Patch(color=COL_FL_T),
               Patch(color=COL_FL_D), Patch(color=COL_LM_T), Patch(color=COL_LM_D)]
bar_labels = ["First-mile time (min)", "First-mile distance (km)", "Flying time (min)",
              "Flying distance (km)", "Last-mile time (min)", "Last-mile distance (km)"]
for ycen in (1 - 103.5 / H, 1 - 1193 / H):
    fig.legend(bar_handles, bar_labels, ncol=3, loc="center left", bbox_to_anchor=(157 / W, ycen),
               frameon=False, fontsize=7.2, handlelength=1.0, handleheight=0.95, handletextpad=0.3,
               columnspacing=0.85, labelspacing=0.35, borderpad=0, borderaxespad=0)

box_handles = [Line2D([], [], marker="^", ls="none", color="#13a378", markersize=6.5),
               Line2D([], [], marker="o", color="#6246d0", lw=1.2, markersize=4.5)]
for ycen in (1 - 84 / H, 1 - 1178 / H):
    fig.legend(box_handles, ["Means", "Median"], ncol=2, loc="center", bbox_to_anchor=(2750 / W, ycen),
               frameon=False, fontsize=11, handlelength=1.15, handletextpad=0.45, columnspacing=1.1,
               borderpad=0, borderaxespad=0)

# panel letters
for letter, x, y in [("A", 69, 90), ("B", 67, 1169.5), ("C", 1248, 89.5), ("D", 1236, 1182),
                     ("E", 2318, 90), ("F", 2318, 1182)]:
    fig.text(x / W, 1 - y / H, letter, fontsize=11.5, fontweight="bold", ha="left", va="center")

# outer frame
fig.add_artist(Rectangle((34 / W, 1 - 2263 / H), 3309 / W, 2228 / H, transform=fig.transFigure,
                         fill=False, edgecolor="#4a4a4a", linewidth=1.0))

fig.savefig("out.png", dpi=300, facecolor="white")
